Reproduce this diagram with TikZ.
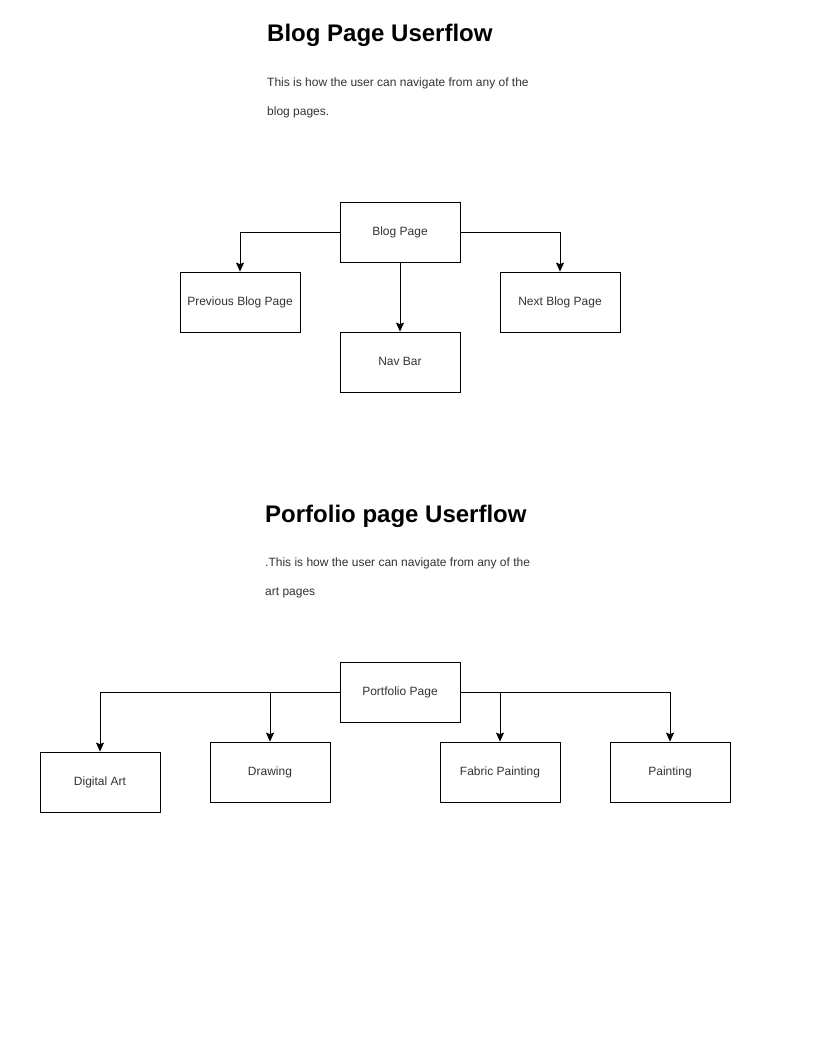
\documentclass[tikz,border=0pt]{standalone}
\usepackage{fontspec}
\setmainfont{Liberation Sans}
\usetikzlibrary{arrows.meta}
\definecolor{txtgray}{HTML}{333333}
\begin{document}
\begin{tikzpicture}[x=1pt,y=-1pt,
  pagebox/.style={draw=black, line width=0.8pt, minimum width=120pt, minimum height=60pt,
    inner sep=0pt, text=txtgray, font=\fontsize{12}{14}\selectfont, text depth=0.3ex},
  flow/.style={draw=black, line width=0.8pt, -{Stealth[length=9pt,width=8pt,inset=1.5pt]}},
  heading/.style={anchor=base west, inner sep=0pt, font=\fontsize{24}{28}\bfseries\selectfont},
  note/.style={anchor=base west, inner sep=0pt, text=txtgray, font=\fontsize{12}{14}\selectfont}]
\useasboundingbox[fill=white] (0,0) rectangle (821,1057);

% Blog section
\node[heading] (t1) at (267,42) {Blog Page Userflow};
\node[note] (n1a) at (267,86) {This is how the user can navigate from any of the};
\node[note] (n1b) at (267,115) {blog pages.};

\node[pagebox] (blog) at (400,232) {Blog Page};
\node[pagebox] (prev) at (240,302) {Previous Blog Page};
\node[pagebox] (next) at (560,302) {Next Blog Page};
\node[pagebox] (nav)  at (400,362) {Nav Bar};

\draw[flow] (blog.west) -| (prev.north);
\draw[flow] (blog.east) -| (next.north);
\draw[flow] (blog.south) -- (nav.north);

% Portfolio section
\node[heading] (t2) at (265,522) {Porfolio page Userflow};
\node[note] (n2a) at (265,566) {.This is how the user can navigate from any of the};
\node[note] (n2b) at (265,595) {art pages};

\node[pagebox] (port) at (400,692) {Portfolio Page};
\node[pagebox] (dig)  at (100,782) {Digital Art};
\node[pagebox] (drw)  at (270,772) {Drawing};
\node[pagebox] (fab)  at (500,772) {Fabric Painting};
\node[pagebox] (pnt)  at (670,772) {Painting};

\draw[flow] (port.west) -| (dig.north);
\draw[flow] (port.west) -| (drw.north);
\draw[flow] (port.east) -| (fab.north);
\draw[flow] (port.east) -| (pnt.north);
\end{tikzpicture}
\end{document}
